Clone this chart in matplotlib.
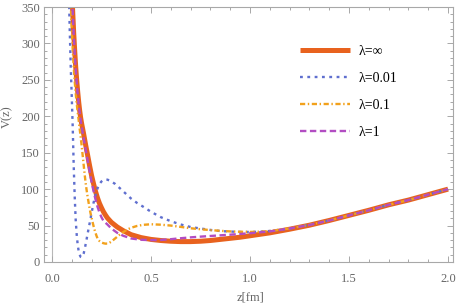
import matplotlib
matplotlib.use("Agg")
import matplotlib.pyplot as plt
from matplotlib.ticker import MultipleLocator

plt.rcParams['font.family'] = ['Liberation Serif', 'DejaVu Serif']

# values, z in fm, V(z)
# lambda = infinity
z_inf = [0.095, 0.100, 0.105, 0.110, 0.115, 0.120, 0.125, 0.130, 0.135, 0.140,
         0.145, 0.150, 0.155, 0.160, 0.165, 0.170, 0.175, 0.180, 0.190, 0.200,
         0.210, 0.220, 0.230, 0.240, 0.250, 0.260, 0.270, 0.280, 0.300, 0.330,
         0.360, 0.400, 0.450, 0.500, 0.550, 0.600, 0.650, 0.700, 0.750, 0.800,
         0.850, 0.900, 0.950, 1.000, 1.100, 1.200, 1.300, 1.400, 1.500, 1.600,
         1.700, 1.800, 1.900, 2.000]
v_inf = [410, 375, 343, 314, 290, 268, 250, 234, 220, 208,
         198, 190, 183, 176, 168.5, 161, 154, 147, 132.5, 119,
         107.5, 97, 88, 80.5, 74.5, 69, 64.5, 60.5, 54.5, 48,
         43, 37.5, 33.5, 31, 29.5, 28.5, 28, 28, 28.5, 29.5,
         31, 32.5, 34, 36, 40, 45, 50.5, 57, 64, 71,
         78.5, 85, 92.5, 100]

# lambda = 0.01
z_001 = [0.080, 0.085, 0.090, 0.095, 0.100, 0.105, 0.110, 0.115, 0.120, 0.125,
         0.130, 0.135, 0.140, 0.145, 0.150, 0.155, 0.160, 0.165, 0.170, 0.175,
         0.180, 0.185, 0.190, 0.200, 0.210, 0.220, 0.230, 0.240, 0.250, 0.260,
         0.270, 0.280, 0.290, 0.300, 0.320, 0.340, 0.360, 0.380, 0.400, 0.430,
         0.460, 0.500, 0.550, 0.600, 0.650, 0.700, 0.750, 0.800, 0.850, 0.900,
         0.950, 1.000, 1.050, 1.100, 1.200, 1.300, 1.400, 1.500, 1.600, 1.700,
         1.800, 1.900, 2.000]
v_001 = [440, 375, 318, 268, 228, 185, 132, 90, 58, 38,
         24, 15, 10, 7, 6.5, 8, 11.5, 17, 24, 31,
         38.5, 45.5, 52.5, 67, 81, 92, 101, 107, 110.5, 112.5,
         113.2, 113, 112, 110.5, 107, 102, 97, 92, 87, 81,
         76, 69, 61.5, 56, 51.5, 48, 46, 44, 42.5, 41.8,
         41.3, 41.2, 41.6, 42.6, 46, 51, 57, 64, 71, 78.5,
         85, 92.5, 100]

# lambda = 0.1
z_01 = [0.090, 0.095, 0.100, 0.105, 0.110, 0.115, 0.120, 0.125, 0.130, 0.135,
        0.140, 0.145, 0.150, 0.155, 0.160, 0.165, 0.170, 0.175, 0.180, 0.185,
        0.190, 0.195, 0.200, 0.205, 0.210, 0.215, 0.220, 0.225, 0.230, 0.240,
        0.250, 0.260, 0.270, 0.280, 0.290, 0.300, 0.320, 0.340, 0.360, 0.380,
        0.400, 0.430, 0.460, 0.500, 0.550, 0.600, 0.650, 0.700, 0.750, 0.800,
        0.850, 0.900, 0.950, 1.000, 1.050, 1.100, 1.200, 1.300, 1.400, 1.500,
        1.600, 1.700, 1.800, 1.900, 2.000]
v_01 = [400, 355, 320, 292, 268, 248, 232, 218, 206, 195,
        183, 172, 160, 147, 134, 121, 109, 99, 90, 82,
        74, 67, 61, 55, 49.5, 44.5, 40, 36, 32.5, 28.8,
        26.8, 25.8, 25.2, 25.3, 26.3, 28, 32.5, 37, 41, 44.5,
        47, 49.5, 51, 51.8, 51.2, 50, 48.2, 46.3, 45, 43.8,
        42.8, 42, 41.5, 41.3, 41.6, 42.5, 46, 51, 57, 64,
        71, 78.5, 85, 92.5, 100]

# lambda = 1
z_1 = [0.095, 0.100, 0.105, 0.110, 0.115, 0.120, 0.125, 0.130, 0.135, 0.140,
       0.145, 0.150, 0.160, 0.170, 0.180, 0.190, 0.200, 0.210, 0.220, 0.230,
       0.240, 0.250, 0.260, 0.280, 0.300, 0.330, 0.360, 0.400, 0.450, 0.500,
       0.550, 0.600, 0.650, 0.700, 0.750, 0.800, 0.850, 0.900, 0.950, 1.000,
       1.100, 1.200, 1.300, 1.400, 1.500, 1.600, 1.700, 1.800, 1.900, 2.000]
v_1 = [412, 377, 343, 312, 287, 265, 247, 231, 217, 205,
       195, 186, 170, 155, 140, 125, 110, 97.5, 86, 76,
       68, 61.5, 56.5, 51.5, 46, 40, 36, 32.3, 30.5, 30,
       30.3, 31.3, 32.6, 33.8, 34.8, 35.7, 36.6, 37.5, 38.5, 39.5,
       42, 46, 50.8, 57, 64, 71, 78.5, 85, 92.5, 100]

labels = ['λ=∞', 'λ=0.01', 'λ=0.1', 'λ=1']

fig = plt.figure(figsize=(4.57, 3.05), dpi=100)
ax = fig.add_axes([44 / 457, 43 / 305, 409 / 457, 255 / 305])

l_inf, = ax.plot(z_inf, v_inf, color='#e8621e', lw=3.6, solid_capstyle='butt',
                 solid_joinstyle='round', label=labels[0])
l_001, = ax.plot(z_001, v_001, color='#5f6fcf', lw=1.7, linestyle=(0, (1.2, 1.9)), label=labels[1])
l_01, = ax.plot(z_01, v_01, color='#f2a11c', lw=1.7, linestyle=(0, (2.2, 1.1, 0.6, 1.1)), label=labels[2])
l_1, = ax.plot(z_1, v_1, color='#b24dc2', lw=1.7, linestyle=(0, (2.7, 1.5)), label=labels[3])

# vertical axis line at z = 0
ax.axvline(0, color='#b8b8b8', lw=0.8, zorder=0)

ax.set_xlim(-0.04, 2.025)
ax.set_ylim(0, 350)

frame_col = '#a8a8a8'
for s in ax.spines.values():
    s.set_color(frame_col)
    s.set_linewidth(0.8)

ax.xaxis.set_major_locator(MultipleLocator(0.5))
ax.xaxis.set_minor_locator(MultipleLocator(0.1))
ax.yaxis.set_major_locator(MultipleLocator(50))
ax.yaxis.set_minor_locator(MultipleLocator(10))
ax.xaxis.set_major_formatter(plt.FuncFormatter(lambda v, p: f'{v:.1f}'))
ax.tick_params(which='both', direction='in', top=True, right=True, color=frame_col, width=0.7)
ax.tick_params(which='major', length=4)
ax.tick_params(which='minor', length=2)
ax.tick_params(axis='x', which='major', labelsize=9, labelcolor='#666666', pad=8)
ax.tick_params(axis='y', which='major', labelsize=9, labelcolor='#666666', pad=3)

ax.set_xlabel('z[fm]', fontsize=9, color='#666666')
ax.set_ylabel('V(z)', fontsize=9, color='#666666')
ax.xaxis.set_label_coords(0.504, -0.115)
ax.yaxis.set_label_coords(-0.075, 0.569)

ax.legend(handles=[l_inf, l_001, l_01, l_1], loc='upper left',
          bbox_to_anchor=(300 / 457, 1 - 45 / 305), bbox_transform=fig.transFigure,
          frameon=False, fontsize=10, handlelength=3.6, handletextpad=0.65,
          labelspacing=1.0, borderpad=0, borderaxespad=0)

fig.savefig('out.png', dpi=100)
